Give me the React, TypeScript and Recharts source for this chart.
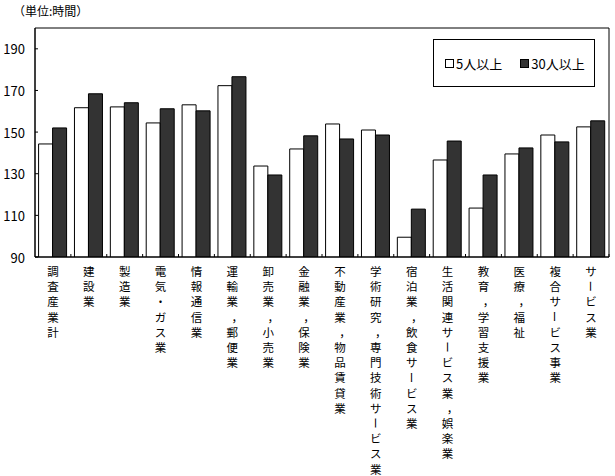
import React from 'react';
import { BarChart, Bar, XAxis, YAxis, Legend, ReferenceArea } from 'recharts';

const categories = [
  '調査産業計',
  '建設業',
  '製造業',
  '電気・ガス業',
  '情報通信業',
  '運輸業，郵便業',
  '卸売業，小売業',
  '金融業，保険業',
  '不動産業，物品賃貸業',
  '学術研究，専門技術サービス業',
  '宿泊業，飲食サービス業',
  '生活関連サービス業，娯楽業',
  '教育，学習支援業',
  '医療，福祉',
  '複合サービス事業',
  'サービス業',
];

const over5 = [144.3, 161.7, 162.1, 154.4, 163.1, 172.3, 133.7, 141.9, 153.9, 151.0, 99.5, 136.6, 113.5, 139.5, 148.6, 152.5];
const over30 = [152.0, 168.4, 164.1, 161.2, 160.2, 176.6, 129.4, 148.2, 146.7, 148.6, 113.0, 145.7, 129.4, 142.4, 145.3, 155.4];

const yTicks = [90, 110, 130, 150, 170, 190];

const data = categories.map((name, i) => ({ name, a: over5[i], b: over30[i] }));

const FONT = '"Noto Sans CJK JP", "Noto Sans", sans-serif';
const BAND = (609 - 35) / categories.length;

const XTick = (props: any) => {
  const { x, y, payload } = props;
  const chars: string[] = Array.from(payload.value as string);
  return (
    <g>
      <line x1={x + BAND / 2} x2={x + BAND / 2} y1={y - 3} y2={y} stroke="#000" />
      {chars.map((c, i) => {
        const cy = y + 14 + i * 15.2;
        const cx = c === '，' ? x + 5 : x;
        return (
          <text
            key={i}
            x={cx}
            y={cy}
            textAnchor="middle"
            dominantBaseline="central"
            fontSize={11.5}
            fontFamily={FONT}
            fill="#000"
            transform={c === 'ー' ? `rotate(90 ${x} ${cy})` : undefined}
          >
            {c}
          </text>
        );
      })}
    </g>
  );
};

const YTick = (props: any) => {
  const { x, y, payload } = props;
  return (
    <g>
      <line x1={x + 10} x2={x + 13} y1={y} y2={y} stroke="#000" />
      <text x={x} y={y} textAnchor="end" dominantBaseline="central" fontSize={13} fontFamily={FONT} fill="#000">
        {payload.value}
      </text>
    </g>
  );
};

const LegendBox = () => (
  <div
    style={{
      width: 160,
      height: 46,
      border: '1px solid #000',
      background: '#fff',
      fontFamily: FONT,
      fontSize: 13,
      display: 'flex',
      alignItems: 'center',
      color: '#000',
    }}
  >
    <span style={{ display: 'inline-block', width: 7, height: 7, border: '1px solid #000', background: '#fff', marginLeft: 11, marginRight: 2 }} />
    <span>5人以上</span>
    <span style={{ display: 'inline-block', width: 7, height: 7, border: '1px solid #000', background: '#333', marginLeft: 18, marginRight: 2 }} />
    <span>30人以上</span>
  </div>
);

export default function App() {
  return (
    <div style={{ position: 'absolute', left: 0, top: 0, width: 615, height: 476, background: '#fff' }}>
      <div style={{ position: 'absolute', left: 13, top: 2, fontFamily: FONT, fontSize: 12, color: '#000' }}>（単位:時間）</div>
      <BarChart
        width={615}
        height={476}
        data={data}
        margin={{ top: 28, right: 6, bottom: 0, left: 0 }}
        barCategoryGap="10%"
        barGap={0}
      >
        <ReferenceArea y1={90} y2={200} fill="none" stroke="#000" strokeWidth={1} ifOverflow="visible" />
        <XAxis
          dataKey="name"
          height={219}
          interval={0}
          tickSize={0}
          tickMargin={0}
          tickLine={false}
          axisLine={{ stroke: '#000' }}
          tick={<XTick />}
        />
        <YAxis
          width={35}
          domain={[90, 200]}
          ticks={yTicks}
          allowDataOverflow
          tickSize={0}
          tickMargin={10}
          tickLine={false}
          axisLine={{ stroke: '#000' }}
          tick={<YTick />}
        />
        <Legend
          verticalAlign="middle"
          align="center"
          layout="horizontal"
          content={<LegendBox />}
          wrapperStyle={{ left: 433, top: 39, width: 162, height: 48 }}
        />
        <Bar dataKey="a" fill="#fff" stroke="#000" strokeWidth={1} isAnimationActive={false} />
        <Bar dataKey="b" fill="#333" stroke="#000" strokeWidth={1} isAnimationActive={false} />
      </BarChart>
    </div>
  );
}
